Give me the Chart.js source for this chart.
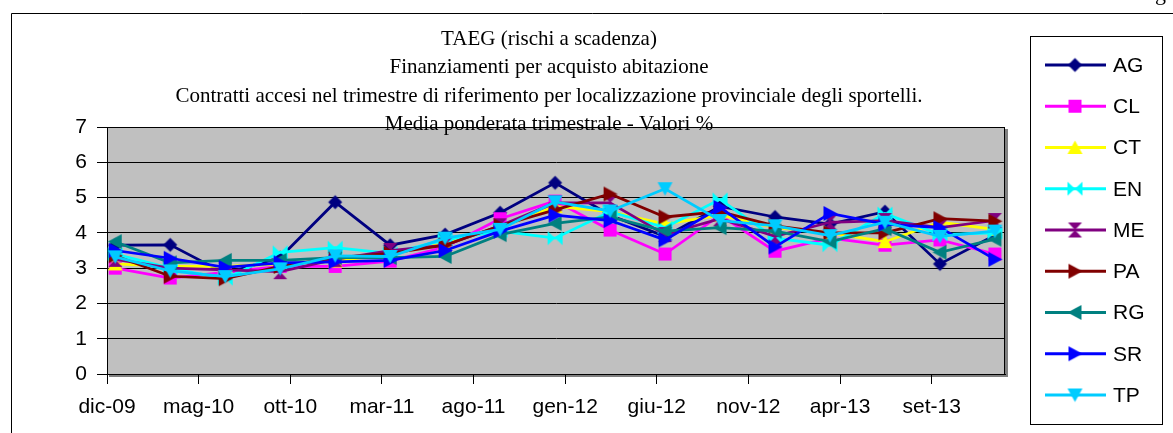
<!DOCTYPE html>
<html>
<head>
<meta charset="utf-8">
<script src="https://cdn.jsdelivr.net/npm/chart.js@4/dist/chart.umd.min.js"></script>
<style>
  html, body { margin: 0; padding: 0; background: #fff; }
  #c { display: block; }
</style>
</head>
<body>
<canvas id="c" width="1173" height="433"></canvas>
<script>
// ---- data ----
const periods = ['dic-09','mar-10','giu-10','set-10','dic-10','mar-11','giu-11','set-11','dic-11',
                 'mar-12','giu-12','set-12','dic-12','mar-13','giu-13','set-13','dic-13'];
const tickLabels = ['dic-09','mag-10','ott-10','mar-11','ago-11','gen-12','giu-12','nov-12','apr-13','set-13'];
const seriesNames = ['AG','CL','CT','EN','ME','PA','RG','SR','TP'];
const AG = [3.65, 3.66, 2.85, 3.30, 4.87, 3.65, 3.95, 4.57, 5.42, 4.50, 3.90, 4.75, 4.45, 4.25, 4.60, 3.12, 3.93];
const CL = [3.00, 2.72, 2.88, 3.05, 3.05, 3.20, 3.60, 4.40, 4.90, 4.08, 3.40, 4.50, 3.48, 3.85, 3.65, 3.80, 3.40];
const CT = [3.12, 3.05, 3.05, 3.12, 3.20, 3.40, 3.70, 4.15, 4.75, 4.60, 4.25, 4.50, 4.15, 4.00, 3.75, 4.30, 4.10];
const EN = [3.40, 3.00, 2.70, 3.45, 3.58, 3.42, 3.80, 4.05, 3.85, 4.60, 4.15, 4.95, 3.85, 3.65, 4.55, 3.95, 4.00];
const ME = [3.25, 3.00, 2.95, 2.90, 3.25, 3.50, 3.65, 4.20, 4.85, 4.85, 3.95, 4.40, 3.90, 4.30, 4.35, 4.15, 4.35];
const PA = [3.35, 2.77, 2.70, 3.05, 3.30, 3.42, 3.65, 4.20, 4.65, 5.10, 4.45, 4.60, 4.20, 4.00, 4.00, 4.40, 4.33];
const RG = [3.75, 3.15, 3.22, 3.22, 3.30, 3.30, 3.33, 3.95, 4.27, 4.45, 4.05, 4.15, 4.05, 3.75, 4.12, 3.45, 3.82];
const SR = [3.50, 3.28, 3.02, 3.15, 3.18, 3.22, 3.50, 4.05, 4.50, 4.35, 3.80, 4.72, 3.60, 4.55, 4.25, 4.15, 3.25];
const TP = [3.32, 2.92, 2.76, 2.98, 3.35, 3.33, 3.85, 4.10, 4.88, 4.62, 5.25, 4.35, 4.20, 3.92, 4.30, 3.90, 4.05];
const seriesValues = [AG, CL, CT, EN, ME, PA, RG, SR, TP];
const seriesColors = ['#000080','#FF00FF','#FFFF00','#00FFFF','#800080','#800000','#008080','#0000FF','#00CCFF'];
const seriesMarkers = ['diamond','square','triUp','bowH','bowV','triRight','triLeft','triRight','triDown'];
const titleLines = ['TAEG (rischi a scadenza)',
  'Finanziamenti per acquisto abitazione',
  'Contratti accesi nel trimestre di riferimento per localizzazione provinciale degli sportelli.',
  'Media ponderata trimestrale - Valori %'];

// ---- helpers ----
const itMonths = ['gen','feb','mar','apr','mag','giu','lug','ago','set','ott','nov','dic'];
function monthIndex(lbl) {
  const p = lbl.split('-');
  return (parseInt(p[1], 10) - 9) * 12 + itMonths.indexOf(p[0]) - 11;
}
const MID = 0.45; // points sit mid-month on the date axis

function makeMarker(kind, color) {
  const c = document.createElement('canvas');
  c.width = 17; c.height = 17;
  const g = c.getContext('2d');
  g.fillStyle = color;
  g.translate(8.5, 8.5);
  g.beginPath();
  switch (kind) {
    case 'diamond': g.moveTo(0,-7); g.lineTo(7,0); g.lineTo(0,7); g.lineTo(-7,0); break;
    case 'square': g.rect(-6.5,-6.5,13,13); break;
    case 'triUp': g.moveTo(0,-7); g.lineTo(7.5,6.5); g.lineTo(-7.5,6.5); break;
    case 'triDown': g.moveTo(0,7); g.lineTo(7.5,-6.5); g.lineTo(-7.5,-6.5); break;
    case 'triRight': g.moveTo(7.5,0); g.lineTo(-6.5,-7.5); g.lineTo(-6.5,7.5); break;
    case 'triLeft': g.moveTo(-7.5,0); g.lineTo(6.5,-7.5); g.lineTo(6.5,7.5); break;
    case 'bowH': g.moveTo(-7.5,-7); g.lineTo(0,0); g.lineTo(-7.5,7); g.closePath();
                 g.moveTo(7.5,-7); g.lineTo(0,0); g.lineTo(7.5,7); break;
    case 'bowV': g.moveTo(-7,-7.5); g.lineTo(0,0); g.lineTo(7,-7.5); g.closePath();
                 g.moveTo(-7,7.5); g.lineTo(0,0); g.lineTo(7,7.5); break;
  }
  g.closePath();
  g.fill();
  return c;
}

const markers = seriesMarkers.map((k, i) => makeMarker(k, seriesColors[i]));

const datasets = seriesNames.map((name, i) => ({
  label: name,
  data: seriesValues[i].map((v, j) => ({ x: monthIndex(periods[j]) + MID, y: v })),
  borderColor: seriesColors[i],
  backgroundColor: seriesColors[i],
  borderWidth: 2.75,
  pointStyle: markers[i],
  pointRadius: 7,
  pointHoverRadius: 7,
  tension: 0,
  order: seriesNames.length - 1 - i
}));

const sansFont = "'Liberation Sans', Arial, sans-serif";
const serifFont = "'Liberation Serif', 'Times New Roman', serif";

const decor = {
  id: 'decor',
  beforeDraw(chart) {
    const ctx = chart.ctx, a = chart.chartArea;
    ctx.save();
    ctx.fillStyle = '#ffffff';
    ctx.fillRect(0, 0, chart.width, chart.height);
    // outer frame
    ctx.strokeStyle = '#000';
    ctx.lineWidth = 1;
    ctx.beginPath();
    ctx.moveTo(11.5, chart.height);
    ctx.lineTo(11.5, 13.5);
    ctx.lineTo(chart.width, 13.5);
    ctx.stroke();
    // plot background + shadow
    ctx.fillStyle = '#808080';
    ctx.fillRect(a.right, a.top + 2, 3, a.bottom - a.top + 1);
    ctx.fillRect(a.left + 2, a.bottom, a.right - a.left + 1, 3);
    ctx.fillStyle = '#C0C0C0';
    ctx.fillRect(a.left, a.top, a.right - a.left, a.bottom - a.top);
    ctx.strokeStyle = '#000';
    ctx.strokeRect(a.left + 0.5, a.top + 0.5, a.right - a.left - 1, a.bottom - a.top);
    ctx.restore();
  },
  afterDraw(chart) {
    const ctx = chart.ctx;
    ctx.save();
    // titles
    ctx.fillStyle = '#000';
    ctx.font = '21px ' + serifFont;
    ctx.textAlign = 'center';
    ctx.textBaseline = 'middle';
    titleLines.forEach((t, i) => ctx.fillText(t, 549, 39 + i * 28.5));
    // stray glyph at top right of the page
    ctx.textAlign = 'left';
    ctx.textBaseline = 'alphabetic';
    ctx.font = '22px ' + serifFont;
    ctx.fillText('g', 1155, 0);
    // legend
    ctx.strokeStyle = '#000';
    ctx.lineWidth = 1;
    ctx.strokeRect(1030.5, 36.5, 132, 388);
    ctx.font = '21px ' + sansFont;
    ctx.textBaseline = 'middle';
    chart.data.datasets.forEach((ds, i) => {
      const y = 65 + i * 41.25;
      ctx.strokeStyle = ds.borderColor;
      ctx.lineWidth = 3;
      ctx.beginPath();
      ctx.moveTo(1045, y);
      ctx.lineTo(1106, y);
      ctx.stroke();
      const m = ds.pointStyle;
      ctx.drawImage(m, 1075 - m.width / 2, y - m.height / 2);
      ctx.fillStyle = '#000';
      ctx.fillText(ds.label, 1113, y + 1);
    });
    ctx.restore();
  }
};

new Chart(document.getElementById('c'), {
  type: 'line',
  data: { datasets },
  options: {
    responsive: false,
    animation: false,
    events: [],
    layout: { padding: { left: 0, top: 127, right: 168, bottom: 0 } },
    plugins: { legend: { display: false }, title: { display: false }, tooltip: { enabled: false } },
    scales: {
      x: {
        type: 'linear',
        min: 0,
        max: 49,
        afterBuildTicks(s) { s.ticks = tickLabels.map(l => ({ value: monthIndex(l) })); },
        afterFit(s) { s.height = 433 - 374; },
        ticks: {
          callback: (v, idx) => tickLabels[idx],
          autoSkip: false,
          maxRotation: 0,
          color: '#000',
          font: { family: sansFont, size: 21 },
          padding: 11
        },
        grid: { drawOnChartArea: false, drawTicks: true, tickLength: 10, color: '#000', lineWidth: 1 },
        border: { display: true, color: '#000', width: 1 }
      },
      y: {
        min: 0,
        max: 7,
        afterFit(s) { s.width = 107; },
        ticks: {
          stepSize: 1,
          color: '#000',
          font: { family: sansFont, size: 21 },
          padding: 10
        },
        grid: { color: '#000', lineWidth: 1, drawTicks: true, tickLength: 10 },
        border: { display: true, color: '#000', width: 1 }
      }
    }
  },
  plugins: [decor]
});
</script>
</body>
</html>
